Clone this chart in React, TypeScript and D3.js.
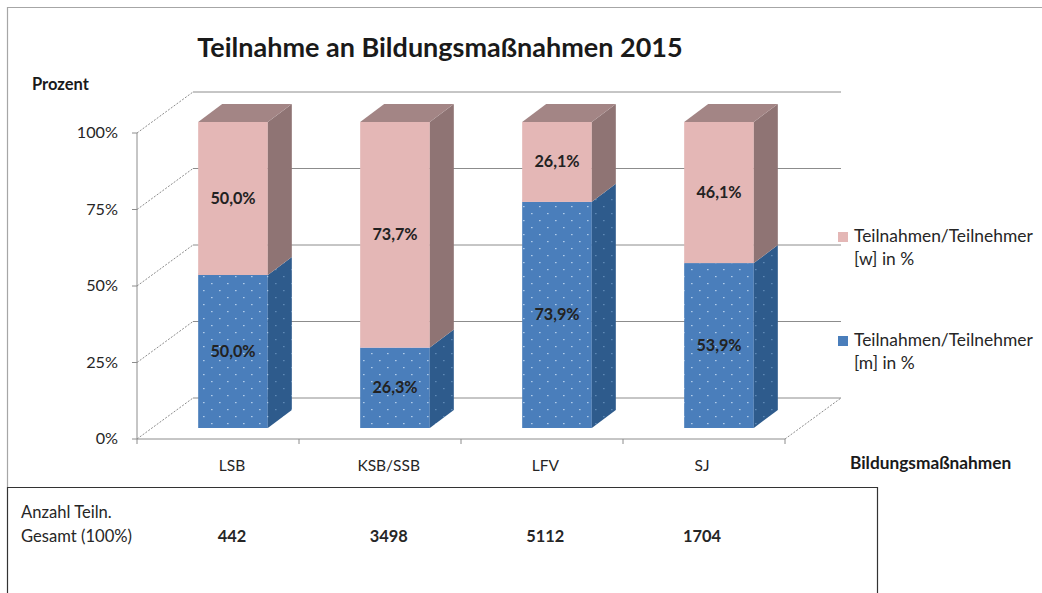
import { useRef, useEffect } from "react";
import * as d3 from "d3";

const categories = ["LSB", "KSB/SSB", "LFV", "SJ"];
const maleShare = [50.0, 26.3, 73.9, 53.9];
const femaleShare = [50.0, 73.7, 26.1, 46.1];
const totals = [442, 3498, 5112, 1704];
const yTicks = [0, 25, 50, 75, 100];
const legendLabels = [
  ["Teilnahmen/Teilnehmer", "[w] in %"],
  ["Teilnahmen/Teilnehmer", "[m] in %"],
];

const W = 1042;
const H = 593;
const FONT = "Lato, 'Open Sans', sans-serif";

const fmt = (v: number) => v.toFixed(1).replace(".", ",") + "%";

function drawChart(node: SVGSVGElement) {
  const svg = d3.select(node);
  svg.selectAll("*").remove();

  // floor depth (oblique offset of the back wall) and bar depth
  const depth = { dx: 56, dy: -41 };
  const barFront = { dx: 15, dy: -11 };
  const barSide = { dx: 24, dy: -18 };

  const xScale = d3
    .scaleBand<string>(categories, [137, 785])
    .paddingInner(0.57)
    .paddingOuter(0.285);
  const labelScale = d3.scalePoint<string>(categories, [232, 702]);
  const yScale = d3.scaleLinear([0, 100], [439, 133]);

  const defs = svg.append("defs");
  const addDots = (id: string, bg: string, dot: string, op: number) => {
    const p = defs
      .append("pattern")
      .attr("id", id)
      .attr("patternUnits", "userSpaceOnUse")
      .attr("width", 16)
      .attr("height", 14);
    p.append("rect").attr("width", 16).attr("height", 14).attr("fill", bg);
    p.append("rect").attr("x", 3).attr("y", 3).attr("width", 1.6).attr("height", 1.2).attr("fill", dot).attr("opacity", op);
    p.append("rect").attr("x", 11).attr("y", 10).attr("width", 1.6).attr("height", 1.2).attr("fill", dot).attr("opacity", op);
  };
  addDots("blueFront", "#4A7EBB", "#CFE3F7", 0.75);
  addDots("blueSide", "#2E5B8C", "#7FA7D1", 0.6);

  // outer frame
  svg
    .append("path")
    .attr("d", `M7.5,487 V7.5 H${W}`)
    .attr("fill", "none")
    .attr("stroke", "#A6A6A6")
    .attr("stroke-width", 1.2);

  // table box
  svg
    .append("path")
    .attr("d", `M7.5,${H} V487.5 H877.5 V${H}`)
    .attr("fill", "none")
    .attr("stroke", "#333")
    .attr("stroke-width", 1.2);

  const x0 = yScale.range()[0];
  const left = xScale.range()[0];
  const right = xScale.range()[1];

  // back wall gridlines
  svg
    .append("g")
    .selectAll("line")
    .data(yTicks)
    .join("line")
    .attr("x1", left + depth.dx)
    .attr("x2", right + depth.dx)
    .attr("y1", (d) => yScale(d) + depth.dy)
    .attr("y2", (d) => yScale(d) + depth.dy)
    .attr("stroke", "#8C8C8C")
    .attr("stroke-width", 1);

  // side wall dashed diagonals
  svg
    .append("g")
    .selectAll("line")
    .data(yTicks)
    .join("line")
    .attr("x1", left)
    .attr("x2", left + depth.dx)
    .attr("y1", (d) => yScale(d))
    .attr("y2", (d) => yScale(d) + depth.dy)
    .attr("stroke", "#8C8C8C")
    .attr("stroke-dasharray", "2,1.5");

  // floor right diagonal
  svg
    .append("line")
    .attr("x1", right)
    .attr("x2", right + depth.dx)
    .attr("y1", x0)
    .attr("y2", x0 + depth.dy)
    .attr("stroke", "#8C8C8C")
    .attr("stroke-dasharray", "2,1.5");

  // front axes
  svg
    .append("line")
    .attr("x1", left)
    .attr("x2", left)
    .attr("y1", yScale(100))
    .attr("y2", yScale(0))
    .attr("stroke", "#8C8C8C");
  svg
    .append("line")
    .attr("x1", left)
    .attr("x2", right)
    .attr("y1", x0)
    .attr("y2", x0)
    .attr("stroke", "#8C8C8C");

  // y ticks
  const yAxis = svg.append("g");
  yAxis
    .selectAll("line")
    .data(yTicks)
    .join("line")
    .attr("x1", left - 5)
    .attr("x2", left)
    .attr("y1", (d) => yScale(d))
    .attr("y2", (d) => yScale(d))
    .attr("stroke", "#8C8C8C");
  yAxis
    .selectAll("text")
    .data(yTicks)
    .join("text")
    .attr("x", left - 19)
    .attr("y", (d) => yScale(d) + 1)
    .attr("text-anchor", "end")
    .attr("dominant-baseline", "middle")
    .attr("font-family", FONT)
    .attr("font-size", 16.2)
    .attr("fill", "#262626")
    .text((d) => `${d}%`);

  // x ticks
  const step = xScale.step();
  svg
    .append("g")
    .selectAll("line")
    .data(d3.range(categories.length + 1))
    .join("line")
    .attr("x1", (i) => left + i * step)
    .attr("x2", (i) => left + i * step)
    .attr("y1", x0)
    .attr("y2", x0 + 5)
    .attr("stroke", "#8C8C8C");

  // bars
  const bw = xScale.bandwidth();
  const bars = svg.append("g");
  categories.forEach((c, i) => {
    const fx = (xScale(c) as number) + barFront.dx;
    const segs = [
      { lo: 0, hi: maleShare[i], val: maleShare[i], front: "url(#blueFront)", side: "url(#blueSide)" },
      { lo: maleShare[i], hi: 100, val: femaleShare[i], front: "#E4B7B6", side: "#8F7474", top: "#A38585" },
    ];
    segs.forEach((s, k) => {
      const yb = yScale(s.lo) + barFront.dy;
      const yt = yScale(s.hi) + barFront.dy;
      const g = bars.append("g");
      g.append("rect")
        .attr("x", fx)
        .attr("y", yt)
        .attr("width", bw)
        .attr("height", yb - yt)
        .attr("fill", s.front);
      g.append("path")
        .attr(
          "d",
          `M${fx + bw},${yb} L${fx + bw},${yt} L${fx + bw + barSide.dx},${yt + barSide.dy} L${fx + bw + barSide.dx},${yb + barSide.dy} Z`
        )
        .attr("fill", s.side);
      if (k === 1) {
        g.append("path")
          .attr(
            "d",
            `M${fx},${yt} L${fx + bw},${yt} L${fx + bw + barSide.dx},${yt + barSide.dy} L${fx + barSide.dx},${yt + barSide.dy} Z`
          )
          .attr("fill", s.top as string);
      } else {
        g.append("line")
          .attr("x1", fx)
          .attr("x2", fx + bw)
          .attr("y1", yt - 1)
          .attr("y2", yt - 1)
          .attr("stroke", "#D9C3DD")
          .attr("stroke-width", 2);
      }
      g.append("text")
        .attr("x", fx + bw / 2)
        .attr("y", (yb + yt) / 2 + 1)
        .attr("text-anchor", "middle")
        .attr("dominant-baseline", "middle")
        .attr("font-family", FONT)
        .attr("font-weight", "bold")
        .attr("font-size", 16.2)
        .attr("fill", "#222")
        .text(fmt(s.val));
    });
  });

  // category labels
  svg
    .append("g")
    .selectAll("text")
    .data(categories)
    .join("text")
    .attr("x", (d) => labelScale(d) as number)
    .attr("y", 471)
    .attr("text-anchor", "middle")
    .attr("font-family", FONT)
    .attr("font-size", 15.5)
    .attr("fill", "#262626")
    .text((d) => d);

  // title and axis titles
  svg
    .append("text")
    .attr("x", 440)
    .attr("y", 57)
    .attr("text-anchor", "middle")
    .attr("font-family", FONT)
    .attr("font-weight", "bold")
    .attr("font-size", 27)
    .attr("fill", "#1A1A1A")
    .text("Teilnahme an Bildungsmaßnahmen 2015");
  svg
    .append("text")
    .attr("x", 32)
    .attr("y", 90)
    .attr("font-family", FONT)
    .attr("font-weight", "bold")
    .attr("font-size", 16.5)
    .attr("fill", "#1A1A1A")
    .text("Prozent");
  svg
    .append("text")
    .attr("x", 850)
    .attr("y", 469)
    .attr("font-family", FONT)
    .attr("font-weight", "bold")
    .attr("font-size", 17.3)
    .attr("fill", "#1A1A1A")
    .text("Bildungsmaßnahmen");

  // legend
  const legend = svg.append("g");
  const legendY = [237, 341];
  const legendFill = ["#E4B7B6", "url(#blueFront)"];
  legendLabels.forEach((lines, i) => {
    legend
      .append("rect")
      .attr("x", 838)
      .attr("y", legendY[i] - 5)
      .attr("width", 10)
      .attr("height", 10)
      .attr("fill", legendFill[i]);
    lines.forEach((t, j) =>
      legend
        .append("text")
        .attr("x", 854)
        .attr("y", legendY[i] + j * 23 + 1)
        .attr("dominant-baseline", "middle")
        .attr("font-family", FONT)
        .attr("font-size", 17.4)
        .attr("fill", "#262626")
        .text(t)
    );
  });

  // table
  const table = svg.append("g").attr("font-family", FONT).attr("fill", "#262626");
  table.append("text").attr("x", 21).attr("y", 518).attr("font-size", 16.6).text("Anzahl Teiln.");
  table.append("text").attr("x", 21).attr("y", 542).attr("font-size", 16.6).text("Gesamt (100%)");
  table
    .selectAll("text.total")
    .data(totals)
    .join("text")
    .attr("class", "total")
    .attr("x", (_, i) => labelScale(categories[i]) as number)
    .attr("y", 542)
    .attr("text-anchor", "middle")
    .attr("font-size", 16.4)
    .attr("font-weight", "bold")
    .text((d) => d);
}

export default function App() {
  const ref = useRef<SVGSVGElement>(null);
  useEffect(() => {
    if (ref.current) drawChart(ref.current);
  });
  return (
    <svg
      ref={ref}
      width={W}
      height={H}
      style={{ position: "absolute", left: 0, top: 0, background: "#fff" }}
    />
  );
}
